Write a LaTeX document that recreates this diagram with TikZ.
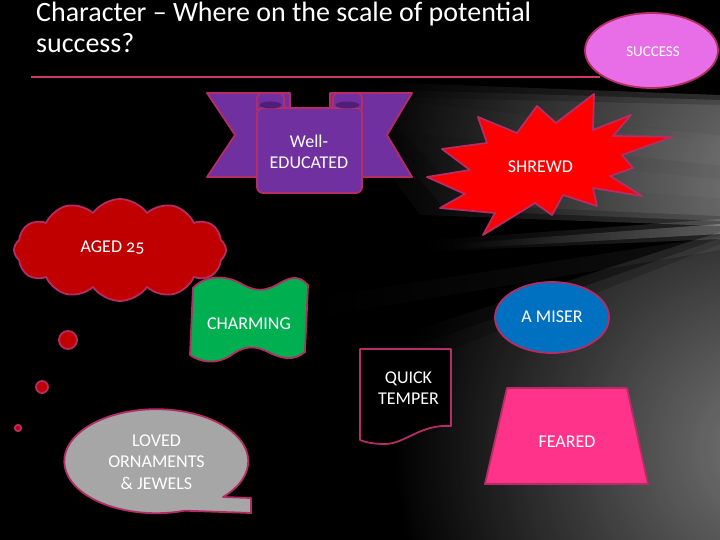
\documentclass[tikz,border=0pt]{standalone}
\usepackage{fontspec}
\setmainfont{Carlito}[Numbers=OldStyle]
\usetikzlibrary{shapes.symbols,shapes.geometric}
\definecolor{rimpink}{RGB}{180,45,100}
\definecolor{titleline}{RGB}{206,55,105}
\definecolor{orchidfill}{RGB}{232,110,232}
\definecolor{ribbonpurple}{RGB}{112,48,160}
\definecolor{foldpurple}{RGB}{80,30,120}
\definecolor{blastred}{RGB}{255,0,0}
\definecolor{cloudred}{RGB}{192,0,0}
\definecolor{wavegreen}{RGB}{0,176,80}
\definecolor{miserblue}{RGB}{0,112,192}
\definecolor{hotpink}{RGB}{255,51,137}
\definecolor{bubblegray}{RGB}{166,166,166}

\begin{document}
\begin{tikzpicture}[x=1pt,y=-1pt,
    rimline/.style={draw=rimpink, line width=1.8pt, line join=round},
    word/.style={text=white, align=center, inner sep=0pt,
      font=\fontsize{18}{21.5}\selectfont},
    ray/.style={left color=black, right color=white, opacity=#1}]
    \useasboundingbox (0,0) rectangle (720,540);
    % dark slide with soft grey light coming in from the right
    \fill[black] (0,0) rectangle (720,540);
    \foreach \d in {0,25,50} {
      \begin{scope}
        \clip (720,232+\d/4) -- (260+\d,380+\d/2) -- (260+\d,540) -- (720,540) -- cycle;
        \shade[inner color=black!40, outer color=black, opacity=0.4] (770,450) circle (380);
      \end{scope}
      \begin{scope}
        \clip (720,95+\d/5) -- (320+\d,80+\d/3) -- (420+\d,215-\d/5) -- (720,226-\d/5) -- cycle;
        \shade[inner color=black!40, outer color=black, opacity=0.4] (780,190) circle (420);
      \end{scope}
    }
    \begin{scope}
      \clip (0,0) rectangle (720,540);
      % streaks
      \shade[ray=0.10] (340,95) -- (950,160) -- (950,190) -- (340,125) -- cycle;
      \shade[ray=0.10] (400,150) -- (950,200) -- (950,215) -- (400,175) -- cycle;
      \shade[ray=0.12] (560,120) -- (950,150) -- (950,160) -- (560,128) -- cycle;
      \shade[ray=0.15] (420,241) -- (720,219) -- (720,239) -- (420,252) -- cycle;
      \shade[ray=0.25] (450,244) -- (720,224) -- (720,234) -- (450,249) -- cycle;
      \shade[ray=0.06] (300,300) -- (720,236) -- (720,250) -- (300,320) -- cycle;
    \end{scope}
    % title and rule
    \node[text=white, anchor=north west, align=left, inner sep=0pt,
      font=\fontsize{28}{31}\selectfont] (title) at (36,2)
      {Character -- Where on the scale of potential\\success?};
    \draw[titleline, line width=1.5pt] (31,77) -- (600,77);
    \draw[rimline, fill=orchidfill] (651.5,50.5) ellipse [x radius=66.5, y radius=37.5];
    \node[word, font=\fontsize{15}{18}\selectfont] (success) at (653,52) {SUCCESS};
    % ribbon: two tails, folds, panel in front
    \draw[rimline, fill=ribbonpurple] (207,93) -- (290,93) -- (290,177) -- (207,177) -- (235,135) -- cycle;
    \draw[rimline, fill=ribbonpurple] (412,93) -- (330,93) -- (330,177) -- (412,177) -- (387,135) -- cycle;
    \draw[rimline, fill=ribbonpurple, rounded corners=5] (257,93) rectangle (284,114);
    \draw[rimline, fill=ribbonpurple, rounded corners=5] (333,93) rectangle (362,114);
    \draw[rimline, fill=ribbonpurple, rounded corners=6] (257,108) rectangle (362,193);
    \fill[foldpurple] (270.5,105) ellipse [x radius=11, y radius=3.5];
    \fill[foldpurple] (347.5,105) ellipse [x radius=12, y radius=3.5];
    \node[word] (educated) at (309,152) {Well-\\EDUCATED};
    % explosion
    \draw[rimline, fill=blastred] (427,177) -- (470,170) -- (442,149) -- (487,143)
      -- (478,117) -- (517,133) -- (537,106) -- (556,123) -- (594,94) -- (593,130)
      -- (631,115) -- (613,136) -- (672,137) -- (622,155) -- (633,168) -- (610,176)
      -- (642,196) -- (593,188) -- (597,206) -- (563,195) -- (552,215) -- (535,203)
      -- (483,235) -- (495,213) -- (440,208) -- (465,194) -- cycle;
    \node[word] (shrewd) at (540.5,167) {SHREWD};
    % thought cloud and its trail of dots
    \node[cloud, cloud puffs=12, cloud puff arc=110, aspect=2.1, minimum width=212pt,
      minimum height=102pt, rimline, fill=cloudred] (puffs) at (120,250) {};
    \node[word] (aged) at (112.5,248) {AGED 25};
    \draw[rimline, fill=cloudred] (68,340) circle (9);
    \draw[rimline, fill=cloudred] (42,387) circle (6);
    \draw[rimline, fill=cloudred] (18,428) circle (3.2);
    % wavy flag
    \draw[rimline, fill=wavegreen] (193,288) .. controls (205,275) and (225,275) .. (240,283)
      .. controls (255,292) and (265,292) .. (280,283)
      .. controls (292,276) and (300,276) .. (308,285) -- (305,352)
      .. controls (295,360) and (285,360) .. (270,353)
      .. controls (255,345) and (245,345) .. (230,356)
      .. controls (215,365) and (200,362) .. (190,355) -- cycle;
    \node[word] (charming) at (249,324) {CHARMING};
    % oval
    \draw[rimline, fill=miserblue] (552,317.5) ellipse [x radius=57, y radius=35.5];
    \node[word] (miser) at (552,317) {A MISER};
    % document sheet
    \draw[rimline, fill=black] (360,349) -- (451,349) -- (451,426)
      .. controls (420,424) and (405,444) .. (385,444)
      .. controls (372,444) and (365,442) .. (360,440) -- cycle;
    \node[word] (temper) at (408.5,388) {QUICK\\TEMPER};
    % trapezoid
    \draw[rimline, fill=hotpink] (507,388) -- (627,388) -- (648,484) -- (485,484) -- cycle;
    \node[word] (feared) at (567,442) {FEARED};
    % speech bubble
    \draw[rimline, fill=bubblegray] (251,498) -- (223,497)
      arc[start angle=43.5, end angle=-288, x radius=92, y radius=52] -- (251,513) -- cycle;
    \node[word] (loved) at (156.5,462) {LOVED\\ORNAMENTS\\\& JEWELS};
  \end{tikzpicture}
\end{document}
